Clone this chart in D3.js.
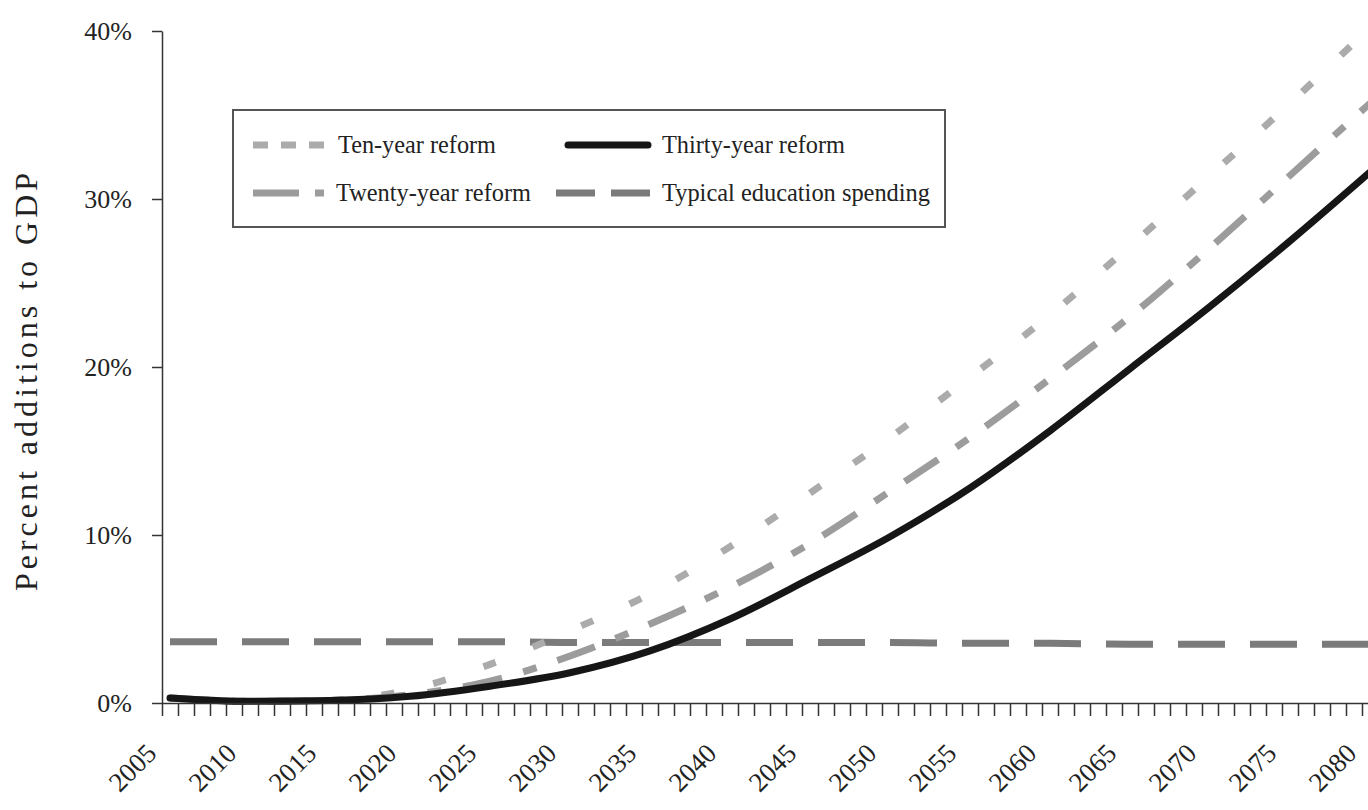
<!DOCTYPE html>
<html>
<head>
<meta charset="utf-8">
<script src="https://cdn.jsdelivr.net/npm/d3@7"></script>
<style>
  body { margin: 0; background: #fff; }
  svg { display: block; font-family: "Liberation Serif", "DejaVu Serif", serif; }
</style>
</head>
<body>
<svg width="1368" height="810"></svg>
<script>
// percent additions to GDP under each reform
const years = [2005, 2010, 2015, 2020, 2025, 2030, 2035, 2040, 2045, 2050, 2055, 2060, 2065, 2070, 2075, 2080];
const tenYear    = [0.3, 0.1, 0.15, 0.8, 2.3, 4.3, 6.5, 9.3, 12.5, 15.8, 19.4, 23.1, 27.2, 31.4, 35.7, 40.2];
const twentyYear = [0.3, 0.1, 0.15, 0.5, 1.3, 2.8, 4.7, 6.9, 9.5, 12.6, 15.8, 19.3, 23.0, 27.1, 31.4, 35.7];
const thirtyYear = [0.3, 0.1, 0.15, 0.4, 1.0, 1.8, 3.1, 5.0, 7.4, 9.9, 12.8, 16.2, 19.9, 23.6, 27.5, 31.6];
const eduSpending = [3.65, 3.65, 3.65, 3.65, 3.65, 3.6, 3.6, 3.6, 3.6, 3.6, 3.55, 3.55, 3.5, 3.5, 3.5, 3.5];
const yTicks = [0, 10, 20, 30, 40];
const xLabelYears = d3.range(2005, 2081, 5);

const svg = d3.select('svg');

const x = d3.scaleLinear().domain([2004.5, 2080.5]).range([162, 1378]);
const y = d3.scaleLinear().domain([0, 40]).range([703, 31]);

const series = [
  {name: 'Typical education spending', values: eduSpending, color: '#7b7b7b', dash: '47,25'},
  {name: 'Ten-year reform', values: tenYear, color: '#ababab', dash: '13,40'},
  {name: 'Twenty-year reform', values: twentyYear, color: '#9c9c9c', dash: '40,22,14,22'},
  {name: 'Thirty-year reform', values: thirtyYear, color: '#161616', dash: null}
];

const line = d3.line()
  .x(d => x(d[0]))
  .y(d => y(d[1]))
  .curve(d3.curveMonotoneX);

svg.append('g')
  .selectAll('path')
  .data(series)
  .enter().append('path')
    .attr('d', s => line(years.map((yr, i) => [yr, s.values[i]])))
    .attr('fill', 'none')
    .attr('stroke', s => s.color)
    .attr('stroke-width', 7)
    .attr('stroke-linecap', s => s.dash ? 'butt' : 'round')
    .attr('stroke-dasharray', s => s.dash);

// y axis
const yAxis = svg.append('g')
  .attr('transform', 'translate(162,0)')
  .call(d3.axisLeft(y).tickValues(yTicks).tickFormat(d => d + '%').tickSize(10).tickPadding(20).tickSizeOuter(0));

// x axis: ticks on year boundaries, labels every five years
const xAxis = svg.append('g')
  .attr('transform', 'translate(0,703)')
  .call(d3.axisBottom(x).tickValues(d3.range(2004.5, 2081, 1)).tickFormat('').tickSize(13).tickSizeOuter(0));

svg.selectAll('.domain, .tick line').attr('stroke', '#333').attr('stroke-width', 1.5);
yAxis.selectAll('text').attr('font-size', 26).attr('fill', '#222').attr('font-family', 'Liberation Serif');

svg.append('g')
  .selectAll('text')
  .data(xLabelYears)
  .enter().append('text')
    .attr('transform', d => `translate(${x(d) - 12},755) rotate(-45)`)
    .attr('text-anchor', 'end')
    .attr('font-size', 27)
    .attr('fill', '#222')
    .text(d => d);

svg.append('text')
  .attr('transform', 'translate(37,380) rotate(-90)')
  .attr('text-anchor', 'middle')
  .attr('font-size', 32)
  .attr('letter-spacing', 4)
  .attr('fill', '#222')
  .text('Percent additions to GDP');

// legend
const legend = svg.append('g');
legend.append('rect')
  .attr('x', 233).attr('y', 110).attr('width', 712).attr('height', 117)
  .attr('fill', '#fff').attr('stroke', '#555').attr('stroke-width', 2);

const legendItems = [
  {s: series[1], lx: 253, ly: 145, w: 71, dash: '15,13', tx: 338, tw: 158},
  {s: series[3], lx: 568, ly: 145, w: 80, dash: null, tx: 662, tw: 183},
  {s: series[2], lx: 253, ly: 193, w: 71, dash: '46,16,9,100', tx: 336, tw: 195},
  {s: series[0], lx: 556, ly: 193, w: 94, dash: '39,16', tx: 662, tw: 268}
];

legend.selectAll('line')
  .data(legendItems)
  .enter().append('line')
    .attr('x1', d => d.lx).attr('x2', d => d.lx + d.w)
    .attr('y1', d => d.ly).attr('y2', d => d.ly)
    .attr('stroke', d => d.s.color)
    .attr('stroke-width', 7)
    .attr('stroke-linecap', d => d.dash ? 'butt' : 'round')
    .attr('stroke-dasharray', d => d.dash);

legend.selectAll('text')
  .data(legendItems)
  .enter().append('text')
    .attr('x', d => d.tx)
    .attr('y', d => d.ly + 8)
    .attr('font-size', 25)
    .attr('textLength', d => d.tw)
    .attr('lengthAdjust', 'spacingAndGlyphs')
    .attr('fill', '#222')
    .text(d => d.s.name);
</script>
</body>
</html>
